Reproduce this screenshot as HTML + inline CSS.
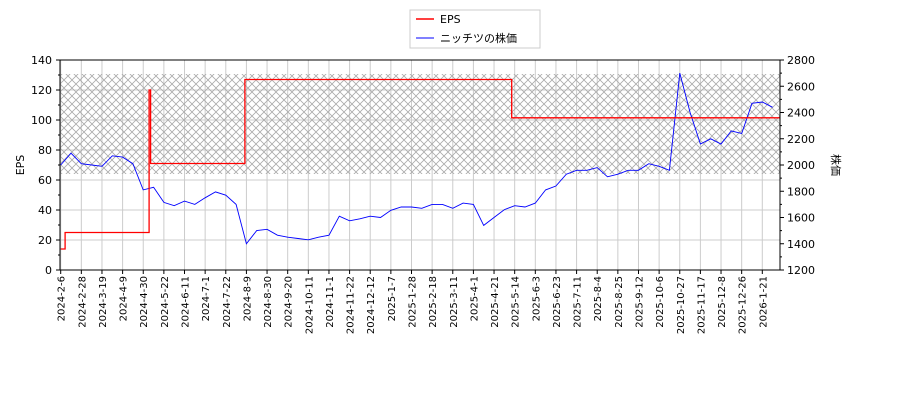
<!DOCTYPE html>
<html><head><meta charset="utf-8"><style>
body{margin:0;background:#fff;}
svg text{font-family:"DejaVu Sans","Liberation Sans","Noto Sans CJK JP",sans-serif;fill:#000;}
</style></head><body>
<svg id="chart" width="900" height="400" xmlns="http://www.w3.org/2000/svg">
<defs>
<pattern id="hatch" patternUnits="userSpaceOnUse" width="8" height="8">
<path d="M0,0 L8,8 M8,0 L0,8" stroke="#aaa" stroke-width="0.8" fill="none"/>
</pattern>
<clipPath id="plotclip"><rect x="60" y="60" width="720" height="210"/></clipPath>
</defs>
<g id="grid"></g>
<rect x="60" y="74" width="720" height="100" fill="url(#hatch)"/>
<g id="series" clip-path="url(#plotclip)"></g>
<rect x="60" y="60" width="720" height="210" fill="none" stroke="#000" stroke-width="1"/>
<g id="axes"></g>
<text transform="translate(24,165) rotate(-90)" text-anchor="middle" font-size="11">EPS</text>
<text transform="translate(832,165) rotate(90)" text-anchor="middle" font-size="11">株価</text>
<g>
<rect x="410" y="10" width="130" height="38" fill="#fff" stroke="#ccc"/>
<line x1="416" y1="19" x2="434" y2="19" stroke="#f00" stroke-width="1.5"/>
<text x="440" y="23" font-size="11">EPS</text>
<line x1="416" y1="38" x2="434" y2="38" stroke="#00f" stroke-width="1"/>
<text x="440" y="42" font-size="11">ニッチツの株価</text>
</g>
</svg>
<script>
const tickLabels=["2024-2-6","2024-2-28","2024-3-19","2024-4-9","2024-4-30","2024-5-22","2024-6-11","2024-7-1","2024-7-22","2024-8-9","2024-8-30","2024-9-20","2024-10-11","2024-11-1","2024-11-22","2024-12-12","2025-1-7","2025-1-28","2025-2-18","2025-3-11","2025-4-1","2025-4-21","2025-5-14","2025-6-3","2025-6-23","2025-7-11","2025-8-4","2025-8-25","2025-9-12","2025-10-6","2025-10-27","2025-11-17","2025-12-8","2025-12-26","2026-1-21"];
const leftTicks=[0,20,40,60,80,100,120,140];
const rightTicks=[1200,1400,1600,1800,2000,2200,2400,2600,2800];
const priceValues=[2000,2090,2010,2000,1990,2070,2060,2010,1810,1830,1715,1690,1725,1700,1750,1795,1770,1700,1400,1500,1510,1465,1450,1440,1430,1450,1465,1610,1575,1590,1610,1600,1655,1680,1680,1670,1700,1700,1670,1710,1700,1540,1600,1660,1690,1680,1710,1810,1840,1930,1960,1960,1980,1910,1930,1960,1960,2010,1990,1960,2700,2400,2160,2200,2160,2260,2240,2470,2480,2440];
const epsStartRow=[0,3,60,61,125,306];
const epsValues=[14,25,120,71,127,101.5];
const ROWS_PER_TICK=14, ROWS_PER_PRICE=7, LAST_ROW=488;
const NS="http://www.w3.org/2000/svg";
const x=r=>60.7+r*(701.6/(34*ROWS_PER_TICK));
const yL=v=>270-(v/140)*210;
const yR=p=>270-((p-1200)/1600)*210;
function mk(tag,attrs,parent){const e=document.createElementNS(NS,tag);for(const k in attrs)e.setAttribute(k,attrs[k]);parent.appendChild(e);return e;}
const grid=document.getElementById('grid'),axes=document.getElementById('axes'),series=document.getElementById('series');
leftTicks.forEach(v=>{
 const l=mk('line',{x1:60,x2:780,y1:yL(v),y2:yL(v),stroke:'#ccc'},grid);
 
 
 mk('line',{x1:56,x2:60,y1:yL(v),y2:yL(v),stroke:'#000'},axes);
 const t=mk('text',{x:52,y:yL(v)+4,'text-anchor':'end','font-size':11},axes);
 t.textContent=v;
 
 
});
for(let v=10;v<140;v+=20)mk('line',{x1:58,x2:60,y1:yL(v),y2:yL(v),stroke:'#000'},axes);
rightTicks.forEach(p=>{
 mk('line',{x1:780,x2:784,y1:yR(p),y2:yR(p),stroke:'#000'},axes);
 const t=mk('text',{x:787,y:yR(p)+4,'font-size':11},axes);
 t.textContent=p;
 
 
});
for(let p=1300;p<2800;p+=200)mk('line',{x1:780,x2:782,y1:yR(p),y2:yR(p),stroke:'#000'},axes);
tickLabels.forEach((s,k)=>{
 const xx=x(k*ROWS_PER_TICK);
 const l=mk('line',{x1:xx,x2:xx,y1:60,y2:270,stroke:'#ccc'},grid);
 
 
 mk('line',{x1:xx,x2:xx,y1:270,y2:274,stroke:'#000'},axes);
 const t=mk('text',{transform:`translate(${xx+4},276) rotate(-90)`,'text-anchor':'end','font-size':10},axes);
 t.textContent=s;
 
 
});
let pp=priceValues.map((p,i)=>x(i*ROWS_PER_PRICE).toFixed(1)+','+yR(p).toFixed(1)).join(' ');
const pl=mk('polyline',{points:pp,fill:'none',stroke:'#00f','stroke-width':0.9},series);


let ep=[];
epsStartRow.forEach((r,i)=>{
 const end=i+1<epsStartRow.length?epsStartRow[i+1]:LAST_ROW;
 ep.push(x(r).toFixed(1)+','+yL(epsValues[i]).toFixed(1));
 ep.push(x(end).toFixed(1)+','+yL(epsValues[i]).toFixed(1));
});
const el=mk('polyline',{points:ep.join(' '),fill:'none',stroke:'#f00','stroke-width':1.3},series);


</script>
</body></html>
